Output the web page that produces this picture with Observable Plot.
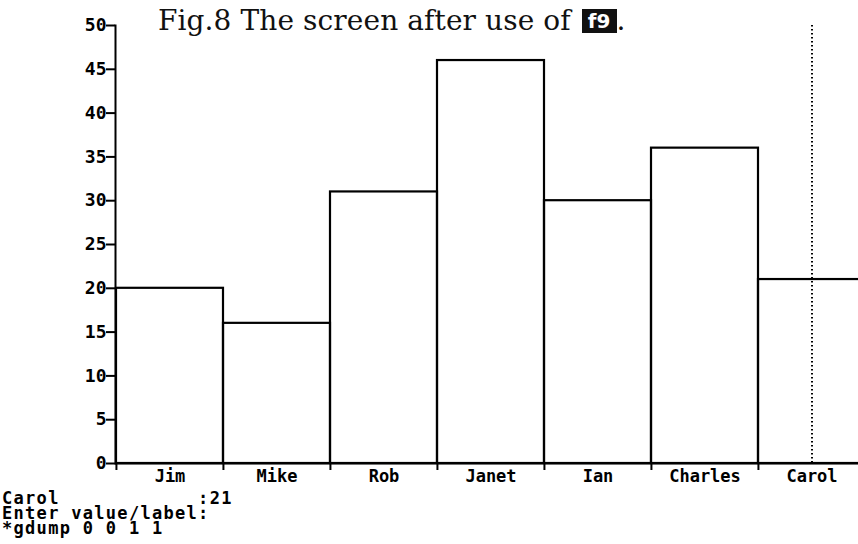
<!DOCTYPE html>
<html><head><meta charset="utf-8">
<script src="https://cdn.jsdelivr.net/npm/d3@7"></script>
<script src="https://cdn.jsdelivr.net/npm/@observablehq/plot@0.6"></script>
<style>
body{margin:0;background:#fff;}
#wrap{position:relative;width:858px;height:544px;overflow:hidden;background:#fff;}
#title{position:absolute;left:158px;top:4px;font-family:"DejaVu Serif",serif;font-size:28px;color:#111;white-space:nowrap;letter-spacing:0.1px;}
#title .key{display:inline-block;background:#111;color:#fff;font-family:"DejaVu Sans",sans-serif;font-weight:bold;font-size:20px;padding:0 6px;line-height:24px;vertical-align:2px;margin-left:2px;}
#console{position:absolute;left:2px;top:491px;font-family:"DejaVu Sans Mono",monospace;font-weight:bold;font-size:17px;line-height:15px;letter-spacing:1.3px;white-space:pre;color:#000;}
svg text{font-weight:bold;}
</style></head><body>
<div id="wrap"><div id="chart"></div><div id="title">Fig.8 The screen after use of <span class="key">f9</span>.</div><div id="console"></div></div>
<script>
const names = ["Jim","Mike","Rob","Janet","Ian","Charles","Carol"];
const values = [20,16,31,46,30,36,21];
const yTicks = [0,5,10,15,20,25,30,35,40,45,50];
const cursorName = "Carol";
const consoleLines = ["Carol            :21","Enter value/label:","*gdump 0 0 1 1"];

const data = names.map((name,i)=>({name, value: values[i]}));
const W=858,H=544, mL=115, mR=-7, mT=25, mB=81;
const bw = (W - mR - mL)/names.length;
const mono = "DejaVu Sans Mono, monospace";
const chart = Plot.plot({
  width:W,height:H,marginLeft:mL,marginRight:mR,marginTop:mT,marginBottom:mB,
  style:{fontFamily:mono, fontSize:"18px", fontWeight:"bold", color:"#000", background:"white", overflow:"visible"},
  x:{domain:names, padding:0, label:null},
  y:{domain:[0,50], label:null},
  marks:[
    Plot.barY(data,{x:"name",y:"value",fill:"none",stroke:"#000",strokeWidth:2.2}),
    Plot.ruleX([cursorName],{stroke:"#000",strokeWidth:2,strokeDasharray:"1.6,2.4"}),
    Plot.ruleY([0],{stroke:"#000",strokeWidth:2.2}),
    Plot.frame({anchor:"left",stroke:"#000",strokeWidth:2}),
    Plot.axisX({tickSize:7, tickFormat:()=>"", dx:-bw/2, strokeWidth:2, label:null}),
    Plot.axisX({tickSize:0, tickPadding:6, fontSize:17, fontWeight:"bold", label:null}),
    Plot.axisY({ticks:yTicks, tickSize:9, tickPadding:0, strokeWidth:2, fontSize:18, fontWeight:"bold", label:null})
  ]
});
document.getElementById("chart").append(chart);
document.getElementById("console").textContent = consoleLines.join("\n");
</script>
</body></html>
